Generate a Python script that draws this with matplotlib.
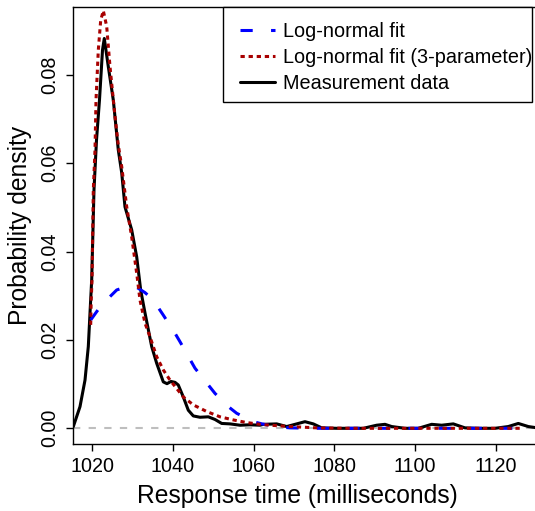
import numpy as np
import matplotlib
matplotlib.use("Agg")
import matplotlib.pyplot as plt
from matplotlib.legend_handler import HandlerLine2D
from matplotlib.patches import Rectangle

plt.rcParams['font.family'] = ['Liberation Sans', 'DejaVu Sans']

# ---------------- data ----------------
meas_x = [1015.3, 1016.95, 1018.19, 1019.01, 1019.43, 1019.85, 1020.42, 1021.04, 1021.78, 1022.53,
          1022.97, 1023.97, 1025.20, 1026.44, 1027.29, 1028.10, 1029.76, 1031.00, 1031.99, 1033.06,
          1034.72, 1035.96, 1037.60, 1038.51, 1039.50, 1040.50, 1041.31, 1042.55, 1043.79, 1045.03,
          1046.69, 1048.75, 1050.41, 1052.07, 1054.13, 1056.61, 1059.08, 1061.56, 1062.38, 1065.70,
          1068.18, 1070.66, 1072.71, 1074.77, 1076.85, 1080.57, 1083.86, 1087.16, 1090.48, 1092.54,
          1094.20, 1097.50, 1100.79, 1104.11, 1106.59, 1109.47, 1112.37, 1115.66, 1119.80, 1123.10,
          1125.58, 1128.06, 1131.0]
meas_y = [0.0004, 0.0049, 0.0109, 0.0185, 0.0261, 0.0336, 0.0540, 0.0652, 0.0743, 0.0856,
          0.0882, 0.0818, 0.0743, 0.0630, 0.0578, 0.0501, 0.0449, 0.0388, 0.0313, 0.0261,
          0.0185, 0.0147, 0.0105, 0.0101, 0.0106, 0.0104, 0.0098, 0.0071, 0.0041, 0.0028,
          0.0025, 0.0026, 0.0020, 0.0011, 0.0010, 0.0007, 0.0008, 0.0007, 0.0009, 0.0010,
          0.0004, 0.0010, 0.0015, 0.0010, 0.0001, 0.0, 0.0, 0.0, 0.0007, 0.0009,
          0.0004, 0.0, 0.0, 0.0009, 0.0007, 0.0010, 0.0001, 0.0, 0.0, 0.0004,
          0.0011, 0.0004, 0.0]

ln_x = [1019.60, 1021.09, 1022.65, 1024.39, 1026.05, 1027.36, 1028.85, 1031.00, 1033.06, 1034.55,
        1036.36, 1037.60, 1040.50, 1041.73, 1044.21, 1045.45, 1048.67, 1050.41, 1053.71, 1055.79,
        1059.90, 1062.06, 1065.28, 1069.00, 1075.60, 1126.00]
ln_y = [0.0245, 0.0264, 0.0283, 0.0298, 0.0313, 0.0317, 0.0320, 0.0319, 0.0307, 0.0295,
        0.0273, 0.0256, 0.0215, 0.0196, 0.0156, 0.0136, 0.0099, 0.0079, 0.0049, 0.0034,
        0.0015, 0.0010, 0.0004, 0.0001, 0.0, 0.0]

ln3_x = [1019.60, 1019.73, 1019.93, 1020.25, 1020.67, 1020.92, 1021.49, 1022.08, 1022.73, 1023.57,
         1024.39, 1025.63, 1026.44, 1027.29, 1028.53, 1029.76, 1031.00, 1031.82, 1033.06, 1034.30,
         1035.96, 1037.60, 1039.26, 1040.92, 1042.55, 1045.03, 1048.35, 1051.65, 1054.94, 1058.27,
         1061.56, 1064.04, 1069.00, 1075.61, 1083.90, 1092.00, 1126.00]
ln3_y = [0.0234, 0.0290, 0.0336, 0.0539, 0.0630, 0.0743, 0.0856, 0.0923, 0.0945, 0.0909,
         0.0818, 0.0705, 0.0641, 0.0592, 0.0501, 0.0433, 0.0351, 0.0290, 0.0238, 0.0207,
         0.0162, 0.0132, 0.0109, 0.0090, 0.0071, 0.0053, 0.0038, 0.0026, 0.0019, 0.0013,
         0.0009, 0.0007, 0.0004, 0.0001, 0.0, 0.0, 0.0]

x_ticks = [1020, 1040, 1060, 1080, 1100, 1120]
y_ticks = [0.00, 0.02, 0.04, 0.06, 0.08]
y_tick_labels = ["0.00", "0.02", "0.04", "0.06", "0.08"]
x_label = "Response time (milliseconds)"
y_label = "Probability density"
series_labels = ["Log-normal fit", "Log-normal fit (3-parameter)", "Measurement data"]

# ---------------- figure ----------------
W, H = 535, 511
fig = plt.figure(figsize=(W / 100, H / 100), dpi=100)
ax_l, ax_r, ax_t, ax_b = 73.3, 540.0, 7.0, 444.0
ax = fig.add_axes([ax_l / W, (H - ax_b) / H, (ax_r - ax_l) / W, (ax_b - ax_t) / H])

ax.set_xlim(1015.29, 1130.96)
ax.set_ylim(-0.00355, 0.09532)

lw = 2.2
ax.axhline(0, color='#bebebe', lw=1.5, dashes=(3.5, 4.0), zorder=1)
l_meas, = ax.plot(meas_x, meas_y, color='black', lw=lw, solid_capstyle='round',
                  solid_joinstyle='round', zorder=3)
l_ln, = ax.plot(ln_x, ln_y, color='#0000ff', lw=lw, dashes=(4, 6), dash_capstyle='butt', zorder=4)
l_ln3, = ax.plot(ln3_x, ln3_y, color='#a80000', lw=lw, dashes=(1.4, 1.25),
                 dash_capstyle='butt', zorder=5)

for s in ['left', 'bottom', 'top', 'right']:
    ax.spines[s].set_linewidth(1.0)
    ax.spines[s].set_color('black')

ax.set_xticks(x_ticks)
ax.set_xticklabels([str(v) for v in x_ticks])
ax.set_yticks(y_ticks)
ax.set_yticklabels(y_tick_labels, rotation=90, va='center', ha='right')
ax.tick_params(axis='both', direction='out', length=5, width=1.0, labelsize=14.2, colors='black')
ax.tick_params(axis='x', pad=4)
ax.tick_params(axis='y', pad=5)

ax.set_xlabel(x_label, fontsize=17.7, va='center')
ax.set_ylabel(y_label, fontsize=17.7, va='center')
axw = ax_r - ax_l
axh = ax_b - ax_t
ax.xaxis.set_label_coords((297.8 - ax_l) / axw, (ax_b - 496.0) / axh)
ax.yaxis.set_label_coords((20.5 - ax_l) / axw, 0.5)


class InsetHandler(HandlerLine2D):
    def __init__(self, frac, **kw):
        super().__init__(**kw)
        self.frac = frac

    def get_xdata(self, legend, xdescent, ydescent, width, height, fontsize):
        x = np.array([-xdescent + self.frac * width, -xdescent + width])
        return x, x


# legend box (drawn manually to match the reference frame)
lg_l, lg_r, lg_t, lg_b = 223.0, 532.0, 7.0, 102.0
fig.patches.append(Rectangle((lg_l / W, (H - lg_b) / H), (lg_r - lg_l) / W, (lg_b - lg_t) / H,
                             transform=fig.transFigure, facecolor='white', edgecolor='black',
                             lw=1.0, zorder=10))
hm = {h: InsetHandler(0.1667) for h in (l_ln, l_ln3, l_meas)}
pad_px = 0.75 * 14.3 / 0.72
leg = fig.legend([l_ln, l_ln3, l_meas], series_labels, loc='upper left',
                 bbox_to_anchor=((lg_l + 10 - pad_px) / W, (H - lg_t) / H),
                 bbox_transform=fig.transFigure,
                 frameon=False, fontsize=14.3, borderpad=0.75, borderaxespad=0,
                 handlelength=2.116, handletextpad=0.4, labelspacing=0.36,
                 handler_map=hm)
leg.set_zorder(11)

fig.savefig('out.png', dpi=100)
